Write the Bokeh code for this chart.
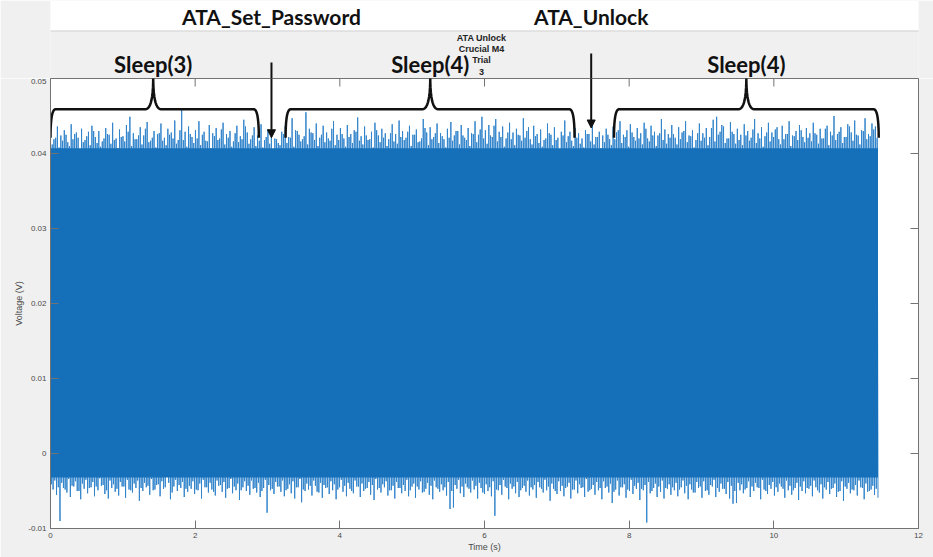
import numpy as np
from bokeh.plotting import figure
from bokeh.layouts import column
from bokeh.models import Range1d, FixedTicker, Label, Arrow, NormalHead
from bokeh.embed import file_html
from bokeh.resources import INLINE

# ---------------- data ----------------
t_start = 0.0
t_end = 11.44

# tall excursions above the band
upper_peaks = [
    0.0428, 0.0419, 0.0436, 0.0424, 0.0431, 0.0415, 0.0439, 0.0426, 0.0421, 0.0433, 0.0418, 0.0429, 0.0437, 0.0422, 0.0430, 0.0416, 0.0434, 0.0425, 0.0441, 0.0420,
    0.0432, 0.0423, 0.0438, 0.0449, 0.0427, 0.0419, 0.0435, 0.0424, 0.0442, 0.0417, 0.0430, 0.0426, 0.0440, 0.0421, 0.0433, 0.0428, 0.0444, 0.0418, 0.0460, 0.0429,
    0.0436, 0.0422, 0.0431, 0.0443, 0.0425, 0.0417, 0.0438, 0.0427, 0.0434, 0.0420, 0.0441, 0.0426, 0.0430, 0.0416, 0.0437, 0.0423, 0.0445, 0.0428, 0.0419, 0.0435,
    0.0424, 0.0439, 0.0418, 0.0432, 0.0426, 0.0420, 0.0414, 0.0429, 0.0436, 0.0422, 0.0447, 0.0431, 0.0425, 0.0419, 0.0455, 0.0433, 0.0427, 0.0440, 0.0421, 0.0437,
    0.0428, 0.0417, 0.0443, 0.0425, 0.0434, 0.0420, 0.0438, 0.0426, 0.0431, 0.0448, 0.0423, 0.0436, 0.0418, 0.0429, 0.0441, 0.0424, 0.0433, 0.0427, 0.0419, 0.0439,
    0.0426, 0.0444, 0.0430, 0.0421, 0.0437, 0.0425, 0.0432, 0.0416, 0.0446, 0.0428, 0.0435, 0.0422, 0.0440, 0.0427, 0.0419, 0.0433, 0.0442, 0.0424, 0.0430, 0.0438,
    0.0421, 0.0434, 0.0427, 0.0443, 0.0425, 0.0449, 0.0431, 0.0438, 0.0422, 0.0446, 0.0429, 0.0436, 0.0420, 0.0441, 0.0428, 0.0433, 0.0424, 0.0447, 0.0430, 0.0419,
    0.0437, 0.0426, 0.0432, 0.0418, 0.0440, 0.0425, 0.0435, 0.0421, 0.0429, 0.0444, 0.0423, 0.0417, 0.0434, 0.0427, 0.0420, 0.0431, 0.0426, 0.0438, 0.0422, 0.0429,
    0.0424, 0.0433, 0.0419, 0.0436, 0.0428, 0.0443, 0.0425, 0.0431, 0.0439, 0.0422, 0.0434, 0.0427, 0.0441, 0.0420, 0.0437, 0.0429, 0.0424, 0.0446, 0.0432, 0.0426,
    0.0438, 0.0421, 0.0435, 0.0428, 0.0443, 0.0424, 0.0431, 0.0418, 0.0440, 0.0427, 0.0434, 0.0422, 0.0445, 0.0449, 0.0429, 0.0436, 0.0420, 0.0442, 0.0426, 0.0433,
    0.0425, 0.0439, 0.0430, 0.0421, 0.0446, 0.0427, 0.0435, 0.0423, 0.0441, 0.0428, 0.0432, 0.0419, 0.0437, 0.0426, 0.0443, 0.0424, 0.0430, 0.0438, 0.0422, 0.0434,
    0.0427, 0.0441, 0.0425, 0.0433, 0.0420, 0.0437, 0.0429, 0.0450, 0.0426, 0.0435, 0.0422, 0.0439, 0.0428, 0.0444, 0.0424, 0.0431, 0.0447, 0.0426, 0.0440, 0.0436,
]

# deep excursions below the band
lower_troughs = [
    -0.0048, -0.0055, -0.0090, -0.0046, -0.0052, -0.0058, -0.0044, -0.0050, -0.0061, -0.0047, -0.0053, -0.0045, -0.0057, -0.0049, -0.0043, -0.0054, -0.0060, -0.0046, -0.0051, -0.0056,
    -0.0044, -0.0059, -0.0048, -0.0052, -0.0046, -0.0063, -0.0050, -0.0045, -0.0055, -0.0049, -0.0042, -0.0057, -0.0047, -0.0022, -0.0061, -0.0044, -0.0050, -0.0046, -0.0058, -0.0051,
    -0.0047, -0.0054, -0.0049, -0.0060, -0.0045, -0.0052, -0.0048, -0.0056, -0.0043, -0.0051, -0.0059, -0.0046, -0.0053, -0.0049, -0.0062, -0.0045, -0.0050, -0.0055, -0.0047, -0.0052,
    -0.0058, -0.0046, -0.0079, -0.0049, -0.0054, -0.0044, -0.0051, -0.0057, -0.0047, -0.0053, -0.0060, -0.0045, -0.0065, -0.0050, -0.0048, -0.0056, -0.0043, -0.0052, -0.0059, -0.0046,
    -0.0054, -0.0049, -0.0061, -0.0045, -0.0051, -0.0057, -0.0047, -0.0053, -0.0044, -0.0058, -0.0050, -0.0046, -0.0055, -0.0062, -0.0048, -0.0052, -0.0045, -0.0056, -0.0049, -0.0060,
    -0.0046, -0.0053, -0.0050, -0.0057, -0.0044, -0.0059, -0.0048, -0.0052, -0.0047, -0.0055, -0.0061, -0.0045, -0.0051, -0.0049, -0.0056, -0.0074, -0.0072, -0.0047, -0.0053, -0.0058,
    -0.0045, -0.0052, -0.0048, -0.0060, -0.0046, -0.0054, -0.0050, -0.0057, -0.0083, -0.0049, -0.0055, -0.0044, -0.0061, -0.0047, -0.0053, -0.0058, -0.0046, -0.0051, -0.0056, -0.0048,
    -0.0059, -0.0045, -0.0052, -0.0049, -0.0063, -0.0047, -0.0054, -0.0050, -0.0057, -0.0044, -0.0060, -0.0048, -0.0053, -0.0046, -0.0058, -0.0051, -0.0047, -0.0055, -0.0049, -0.0061,
    -0.0046, -0.0052, -0.0066, -0.0048, -0.0056, -0.0045, -0.0059, -0.0050, -0.0054, -0.0047, -0.0062, -0.0049, -0.0092, -0.0053, -0.0046, -0.0058, -0.0051, -0.0060, -0.0047, -0.0055,
    -0.0049, -0.0057, -0.0045, -0.0053, -0.0061, -0.0048, -0.0052, -0.0046, -0.0059, -0.0050, -0.0055, -0.0044, -0.0058, -0.0051, -0.0047, -0.0054, -0.0060, -0.0067, -0.0066, -0.0049,
    -0.0053, -0.0046, -0.0058, -0.0050, -0.0045, -0.0061, -0.0048, -0.0054, -0.0047, -0.0056, -0.0051, -0.0044, -0.0059, -0.0049, -0.0055, -0.0046, -0.0062, -0.0050, -0.0053, -0.0047,
    -0.0057, -0.0045, -0.0052, -0.0060, -0.0048, -0.0054, -0.0046, -0.0058, -0.0050, -0.0063, -0.0047, -0.0053, -0.0049, -0.0056, -0.0045, -0.0061, -0.0051, -0.0048, -0.0055, -0.0059,
]

# in-between samples (smaller excursions, ragged edge of the dense band)
upper_minor = [
    0.0412, 0.0421, 0.0408, 0.0417, 0.0425, 0.0410, 0.0419, 0.0428, 0.0406, 0.0415, 0.0423, 0.0411, 0.0430, 0.0414, 0.0409, 0.0420, 0.0426, 0.0413, 0.0418, 0.0407,
    0.0422, 0.0416, 0.0429, 0.0410, 0.0419, 0.0424, 0.0412, 0.0433, 0.0415, 0.0421, 0.0408, 0.0427, 0.0417, 0.0411, 0.0425, 0.0420, 0.0413, 0.0431, 0.0418, 0.0409,
    0.0426, 0.0414, 0.0420, 0.0411, 0.0429, 0.0416, 0.0407, 0.0423, 0.0418, 0.0432, 0.0412, 0.0421, 0.0409, 0.0427, 0.0415, 0.0419, 0.0436, 0.0413, 0.0424, 0.0410,
    0.0417, 0.0408, 0.0422, 0.0413, 0.0405, 0.0419, 0.0411, 0.0426, 0.0414, 0.0421, 0.0409, 0.0430, 0.0416, 0.0423, 0.0412, 0.0428, 0.0418, 0.0410, 0.0425, 0.0415,
    0.0420, 0.0433, 0.0411, 0.0418, 0.0426, 0.0409, 0.0422, 0.0414, 0.0429, 0.0417, 0.0412, 0.0424, 0.0419, 0.0408, 0.0431, 0.0415, 0.0421, 0.0410, 0.0427, 0.0416,
    0.0413, 0.0422, 0.0418, 0.0429, 0.0410, 0.0425, 0.0415, 0.0420, 0.0434, 0.0411, 0.0419, 0.0427, 0.0414, 0.0423, 0.0408, 0.0421, 0.0417, 0.0430, 0.0412, 0.0424,
    0.0418, 0.0410, 0.0426, 0.0415, 0.0432, 0.0420, 0.0413, 0.0424, 0.0437, 0.0416, 0.0422, 0.0409, 0.0428, 0.0419, 0.0411, 0.0425, 0.0417, 0.0421, 0.0435, 0.0412,
    0.0423, 0.0414, 0.0409, 0.0420, 0.0427, 0.0411, 0.0418, 0.0406, 0.0424, 0.0415, 0.0429, 0.0410, 0.0421, 0.0413, 0.0408, 0.0426, 0.0416, 0.0412, 0.0422, 0.0407,
    0.0415, 0.0425, 0.0411, 0.0419, 0.0431, 0.0414, 0.0422, 0.0409, 0.0428, 0.0417, 0.0420, 0.0412, 0.0433, 0.0416, 0.0424, 0.0410, 0.0427, 0.0418, 0.0413, 0.0421,
    0.0426, 0.0412, 0.0419, 0.0430, 0.0415, 0.0423, 0.0408, 0.0427, 0.0417, 0.0421, 0.0411, 0.0434, 0.0416, 0.0425, 0.0438, 0.0414, 0.0420, 0.0429, 0.0413, 0.0418,
    0.0411, 0.0424, 0.0417, 0.0432, 0.0414, 0.0420, 0.0409, 0.0428, 0.0416, 0.0422, 0.0435, 0.0412, 0.0419, 0.0426, 0.0410, 0.0423, 0.0418, 0.0431, 0.0415, 0.0421,
    0.0416, 0.0427, 0.0413, 0.0420, 0.0433, 0.0411, 0.0424, 0.0418, 0.0429, 0.0414, 0.0422, 0.0436, 0.0417, 0.0425, 0.0412, 0.0430, 0.0419, 0.0423, 0.0432, 0.0421,
]

lower_minor = [
    -0.0041, -0.0036, -0.0045, -0.0039, -0.0048, -0.0034, -0.0043, -0.0037, -0.0050, -0.0040, -0.0035, -0.0046, -0.0038, -0.0044, -0.0033, -0.0042, -0.0049, -0.0036, -0.0041, -0.0047,
    -0.0038, -0.0044, -0.0035, -0.0049, -0.0040, -0.0036, -0.0046, -0.0039, -0.0043, -0.0034, -0.0048, -0.0041, -0.0037, -0.0045, -0.0039, -0.0052, -0.0035, -0.0042, -0.0038, -0.0047,
    -0.0043, -0.0037, -0.0048, -0.0040, -0.0035, -0.0045, -0.0039, -0.0051, -0.0036, -0.0042, -0.0038, -0.0047, -0.0034, -0.0044, -0.0040, -0.0049, -0.0037, -0.0043, -0.0036, -0.0046,
    -0.0039, -0.0050, -0.0035, -0.0042, -0.0047, -0.0038, -0.0044, -0.0036, -0.0049, -0.0041, -0.0037, -0.0045, -0.0034, -0.0048, -0.0040, -0.0043, -0.0036, -0.0051, -0.0039, -0.0042,
    -0.0045, -0.0037, -0.0041, -0.0048, -0.0035, -0.0043, -0.0039, -0.0050, -0.0036, -0.0044, -0.0040, -0.0047, -0.0038, -0.0042, -0.0034, -0.0046, -0.0041, -0.0037, -0.0049, -0.0043,
    -0.0038, -0.0046, -0.0042, -0.0035, -0.0049, -0.0040, -0.0044, -0.0037, -0.0051, -0.0039, -0.0043, -0.0036, -0.0047, -0.0041, -0.0045, -0.0038, -0.0050, -0.0042, -0.0035, -0.0044,
    -0.0040, -0.0047, -0.0036, -0.0043, -0.0039, -0.0052, -0.0041, -0.0045, -0.0037, -0.0048, -0.0042, -0.0035, -0.0046, -0.0040, -0.0044, -0.0038, -0.0049, -0.0043, -0.0036, -0.0045,
    -0.0042, -0.0038, -0.0047, -0.0035, -0.0044, -0.0040, -0.0050, -0.0037, -0.0043, -0.0046, -0.0039, -0.0048, -0.0036, -0.0041, -0.0045, -0.0034, -0.0049, -0.0042, -0.0038, -0.0046,
    -0.0037, -0.0044, -0.0040, -0.0051, -0.0036, -0.0045, -0.0041, -0.0048, -0.0035, -0.0043, -0.0039, -0.0047, -0.0042, -0.0038, -0.0050, -0.0040, -0.0044, -0.0036, -0.0046, -0.0041,
    -0.0045, -0.0039, -0.0048, -0.0036, -0.0043, -0.0041, -0.0052, -0.0038, -0.0044, -0.0037, -0.0049, -0.0042, -0.0035, -0.0046, -0.0040, -0.0047, -0.0038, -0.0043, -0.0050, -0.0039,
    -0.0041, -0.0048, -0.0037, -0.0044, -0.0039, -0.0046, -0.0035, -0.0050, -0.0042, -0.0038, -0.0045, -0.0040, -0.0047, -0.0036, -0.0043, -0.0049, -0.0039, -0.0044, -0.0037, -0.0046,
    -0.0043, -0.0036, -0.0049, -0.0041, -0.0045, -0.0038, -0.0047, -0.0040, -0.0051, -0.0037, -0.0044, -0.0039, -0.0048, -0.0042, -0.0036, -0.0046, -0.0040, -0.0050, -0.0043, -0.0047,
]

core_low = -0.0032
core_high = 0.0407

x_ticks = [0, 2, 4, 6, 8, 10, 12]
x_tick_labels = ["0", "2", "4", "6", "8", "10", "12"]
y_ticks = [-0.01, 0, 0.01, 0.02, 0.03, 0.04, 0.05]
y_tick_labels = ["-0.01", "0", "0.01", "0.02", "0.03", "0.04", "0.05"]

title_lines = ["ATA Unlock", "Crucial M4", "Trial", "3"]
phase_labels = ["Sleep(3)", "Sleep(4)", "Sleep(4)"]
phase_starts = [0.0, 3.25, 7.79]
phase_ends = [2.88, 7.245, 11.45]
phase_centers = [1.42, 5.25, 9.62]
command_labels = ["ATA_Set_Password", "ATA_Unlock"]
command_times = [3.055, 7.475]

# ---------------- signal ----------------
n = len(upper_peaks)
sig_v = np.empty(4 * n)
sig_v[0::4] = upper_peaks
sig_v[1::4] = lower_minor
sig_v[2::4] = upper_minor
sig_v[3::4] = lower_troughs
sig_t = np.linspace(t_start, t_end, 4 * n)

BLUE = "#156fb9"
SPIKE = "#3284cb"
AX = "#737373"
TXT = "#4a4a4a"
INK = "#111111"
GREY = "#f0f0f0"
BIG_FONT = "Lato"

W = 933
ML, MR = 50, 15
HEAD_H = 78
MAIN_H = 479
MB = 29
FRAME_W = W - ML - MR
FRAME_H = MAIN_H - MB

x_range = Range1d(0, 12)

# ---------------- header (texts above the axes) ----------------
head = figure(width=W, height=HEAD_H, x_range=x_range, y_range=Range1d(HEAD_H, 0),
              output_backend="svg", toolbar_location=None,
              min_border_left=ML, min_border_right=MR, min_border_top=0, min_border_bottom=0,
              x_axis_location=None, y_axis_location=None,
              background_fill_color=GREY, border_fill_color=GREY, outline_line_color=None)
head.grid.visible = False
head.quad(left=[-1], right=[13], top=[0], bottom=[30], fill_color="white", line_color=None)
head.line(x=[-1, 13], y=[30.5, 30.5], line_color="#d2d2d2", line_width=1)

for lbl, tt in zip(command_labels, command_times):
    head.add_layout(Label(x=tt, y=16, text=lbl, text_font=BIG_FONT, text_font_style="bold",
                          text_font_size="21px", text_align="center", text_baseline="middle",
                          text_color=INK))
for lbl, c in zip(phase_labels, phase_centers):
    head.add_layout(Label(x=c, y=63.5, text=lbl, text_font=BIG_FONT, text_font_style="bold",
                          text_font_size="22px", text_align="center", text_baseline="middle",
                          text_color=INK))
for txt, yy in zip(title_lines, [37.7, 48.8, 59.9, 71.0]):
    head.add_layout(Label(x=5.96, y=yy, text=txt, text_font="Liberation Sans", text_font_style="bold",
                          text_font_size="9px", text_align="center", text_baseline="middle",
                          text_color="#222222"))
# upper parts of the two arrows
head.segment(x0=command_times, y0=[62, 53], x1=command_times, y1=[HEAD_H, HEAD_H],
             line_color=INK, line_width=2)

# ---------------- main plot ----------------
p = figure(width=W, height=MAIN_H, x_range=x_range, y_range=Range1d(-0.01, 0.05),
           output_backend="svg", toolbar_location=None,
           min_border_left=ML, min_border_right=MR, min_border_top=0, min_border_bottom=MB,
           background_fill_color="white", border_fill_color=GREY)
p.grid.visible = False
p.outline_line_color = AX

p.line(sig_t, sig_v, line_color=SPIKE, line_width=1)
p.varea(x=[t_start, t_end], y1=[core_low, core_low], y2=[core_high, core_high], color=BLUE)


def style_axis(ax, ticks, labels):
    ax.ticker = FixedTicker(ticks=ticks)
    ax.axis_line_color = AX
    ax.major_tick_line_color = AX
    ax.minor_tick_line_color = None
    ax.major_tick_in = 8
    ax.major_tick_out = 0
    ax.major_label_overrides = {k: v for k, v in zip(ticks, labels)}
    ax.major_label_text_font = "Liberation Sans"
    ax.major_label_text_font_size = "8px"
    ax.major_label_text_color = TXT
    ax.major_label_standoff = 4
    ax.axis_label_text_font = "Liberation Sans"
    ax.axis_label_text_font_size = "9px"
    ax.axis_label_text_font_style = "normal"
    ax.axis_label_text_color = TXT
    ax.axis_label_standoff = 1


style_axis(p.xaxis[0], x_ticks, x_tick_labels)
style_axis(p.yaxis[0], y_ticks, y_tick_labels)
p.xaxis[0].axis_label = "Time (s)"
p.yaxis[0].axis_label = "Voltage (V)"
p.yaxis[0].major_label_orientation = "horizontal"

# inward ticks on the top and right edges of the box
tick_len_y = 8 * 0.06 / FRAME_H
tick_len_x = 8 * 12.0 / FRAME_W
p.segment(x0=x_ticks, y0=[0.05] * len(x_ticks), x1=x_ticks, y1=[0.05 - tick_len_y] * len(x_ticks),
          line_color=AX, line_width=1)
p.segment(x0=[12] * len(y_ticks), y0=y_ticks, x1=[12 - tick_len_x] * len(y_ticks), y1=y_ticks,
          line_color=AX, line_width=1)


def brace(x0, x1, xc, y_end, y_bar, y_tip, r_end, r_tip, steps=12):
    s = np.linspace(0, 1, steps)

    def quad(a, c, b):
        return ((1 - s) ** 2 * a[0] + 2 * (1 - s) * s * c[0] + s ** 2 * b[0],
                (1 - s) ** 2 * a[1] + 2 * (1 - s) * s * c[1] + s ** 2 * b[1])
    segs = [
        quad((x0, y_end), (x0, y_bar), (x0 + r_end, y_bar)),
        quad((xc - r_tip, y_bar), (xc, y_bar), (xc, y_tip)),
        quad((xc, y_tip), (xc, y_bar), (xc + r_tip, y_bar)),
        quad((x1 - r_end, y_bar), (x1, y_bar), (x1, y_end)),
    ]
    return (np.concatenate([sg[0] for sg in segs]), np.concatenate([sg[1] for sg in segs]))


for a, b, c in zip(phase_starts, phase_ends, phase_centers):
    bx, by = brace(a, b, c, 0.0421, 0.0459, 0.0502, 0.07, 0.11)
    p.line(bx, by, line_color=INK, line_width=2.5)

arrow_tips = [0.0421, 0.0434]
for tt, y1 in zip(command_times, arrow_tips):
    p.add_layout(Arrow(x_start=tt, y_start=0.0502, x_end=tt, y_end=y1, line_width=2, line_color=INK,
                       end=NormalHead(size=8, fill_color=INK, line_color=INK)))

layout = column(head, p, spacing=0)
open("out.html", "w").write(file_html(layout, INLINE))
